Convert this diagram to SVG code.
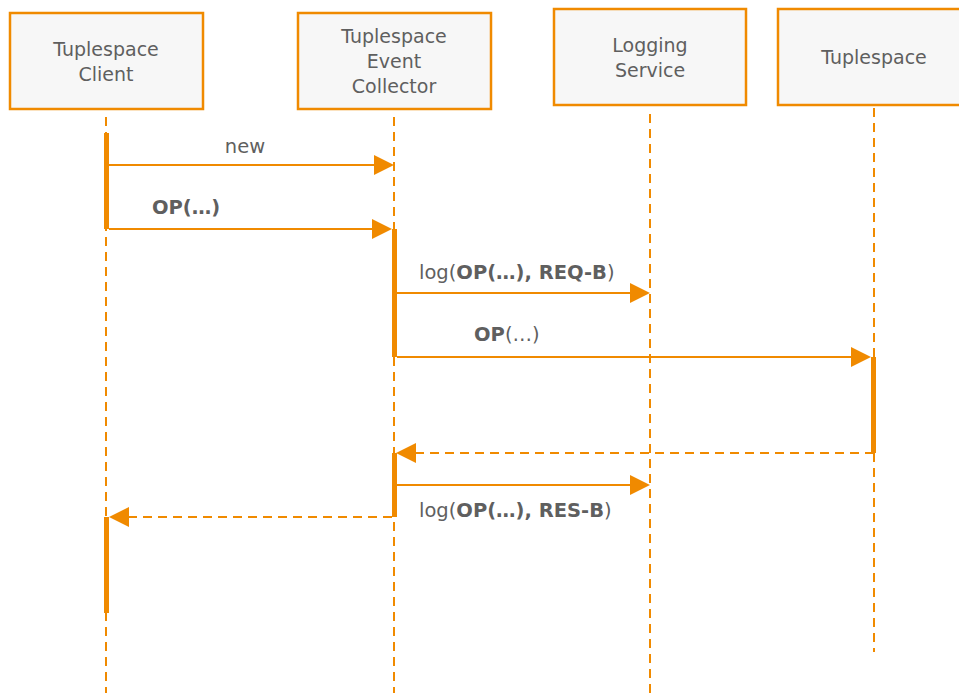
<svg xmlns="http://www.w3.org/2000/svg" width="959" height="693" viewBox="0 0 959 693">
  <style>
    .box { fill: #f7f7f7; stroke: #f08a00; stroke-width: 2.5; }
    .name { font-family: "DejaVu Sans", "Noto Sans", sans-serif; font-size: 19px; fill: #5f5f5f; text-anchor: middle; }
    .lifeline { stroke: #f08a00; stroke-width: 2; stroke-dasharray: 9 6; fill: none; }
    .act { fill: #f08a00; }
    .msg { stroke: #f08a00; stroke-width: 2.2; fill: none; }
    .ret { stroke: #f08a00; stroke-width: 2.2; stroke-dasharray: 9 6; fill: none; }
    .head { fill: #f08a00; }
    .lbl { font-family: "DejaVu Sans", "Noto Sans", sans-serif; font-size: 19.5px; fill: #5f5f5f; }
    .b { font-weight: bold; }
  </style>

  <g id="lifelines">
    <line class="lifeline" x1="106" y1="117" x2="106" y2="693"/>
    <line class="lifeline" x1="394" y1="117" x2="394" y2="693"/>
    <line class="lifeline" x1="650" y1="114" x2="650" y2="693"/>
    <line class="lifeline" x1="874" y1="108" x2="874" y2="652"/>
  </g>

  <g id="client">
    <rect class="box" x="10" y="13" width="193" height="96"/>
    <text class="name" x="106" y="56">Tuplespace</text>
    <text class="name" x="106" y="81">Client</text>
  </g>
  <g id="collector">
    <rect class="box" x="298" y="13" width="193" height="96"/>
    <text class="name" x="394" y="43">Tuplespace</text>
    <text class="name" x="394" y="68">Event</text>
    <text class="name" x="394" y="93">Collector</text>
  </g>
  <g id="logging">
    <rect class="box" x="554" y="9" width="192" height="96"/>
    <text class="name" x="650" y="52">Logging</text>
    <text class="name" x="650" y="77">Service</text>
  </g>
  <g id="tuplespace">
    <rect class="box" x="778" y="9" width="193" height="96"/>
    <text class="name" x="874" y="64">Tuplespace</text>
  </g>

  <g id="activations">
    <rect class="act" x="104" y="133" width="5" height="96"/>
    <rect class="act" x="104" y="517" width="5" height="96"/>
    <rect class="act" x="392" y="229" width="5" height="128"/>
    <rect class="act" x="392" y="453" width="5" height="64"/>
    <rect class="act" x="871" y="357" width="5" height="96"/>
  </g>

  <g id="connectors">
    <!-- new -->
    <line class="msg" x1="109" y1="165" x2="376" y2="165"/>
    <polygon class="head" points="394,165 374,155 374,175"/>
    <!-- OP(...) to collector -->
    <line class="msg" x1="109" y1="229" x2="374" y2="229"/>
    <polygon class="head" points="392,229 372,219 372,239"/>
    <!-- log request -->
    <line class="msg" x1="397" y1="293" x2="632" y2="293"/>
    <polygon class="head" points="650,293 630,283 630,303"/>
    <!-- OP(...) to tuplespace -->
    <line class="msg" x1="397" y1="357" x2="853" y2="357"/>
    <polygon class="head" points="871,357 851,347 851,367"/>
    <!-- return from tuplespace -->
    <line class="ret" x1="874" y1="453" x2="414" y2="453"/>
    <polygon class="head" points="396,453 416,443 416,463"/>
    <!-- log response -->
    <line class="msg" x1="397" y1="485" x2="632" y2="485"/>
    <polygon class="head" points="650,485 630,475 630,495"/>
    <!-- return to client -->
    <line class="ret" x1="392" y1="517" x2="127" y2="517"/>
    <polygon class="head" points="109,517 129,507 129,527"/>
  </g>

  <g id="labels">
    <text class="lbl" x="245" y="153" text-anchor="middle">new</text>
    <text class="lbl" x="152" y="214"><tspan class="b">OP(…)</tspan></text>
    <text class="lbl" x="419" y="279">log(<tspan class="b">OP(…), REQ-B</tspan>)</text>
    <text class="lbl" x="474" y="341"><tspan class="b">OP</tspan>(…)</text>
    <text class="lbl" x="419" y="517">log(<tspan class="b">OP(…), RES-B</tspan>)</text>
  </g>
</svg>
